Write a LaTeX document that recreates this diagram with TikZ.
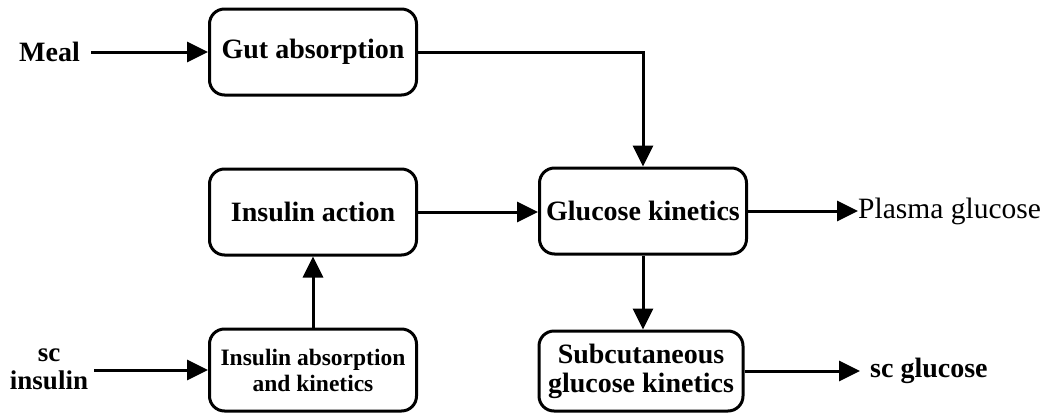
\documentclass[tikz,border=0pt]{standalone}
\usepackage{fontspec}
\setmainfont{Liberation Serif}
\usetikzlibrary{arrows.meta}
\begin{document}
\begin{tikzpicture}[x=1pt,y=-1pt,
  blk/.style={draw, line width=3pt, rounded corners=15pt, minimum width=207pt,
    minimum height=86pt, align=center, inner sep=0pt,
    font=\bfseries\fontsize{28}{29}\selectfont},
  lbl/.style={inner sep=0pt, align=center, font=\bfseries\fontsize{28}{29}\selectfont},
  flow/.style={line width=3pt, -{Triangle[length=21pt,width=20pt]}}]
\useasboundingbox (0,0) rectangle (1046,415);

% model blocks
\node[blk] (gut) at (313,52) {Gut absorption};
\node[blk] (act) at (313,212) {Insulin action};
\node[blk, minimum height=82pt, font=\bfseries\fontsize{23.5}{26}\selectfont] (abs) at (313,370) {Insulin absorption\\and kinetics};
\node[blk] (gk) at (643,211) {Glucose kinetics};
\node[blk, minimum width=204pt, minimum height=80pt] (sgk) at (641,371) {Subcutaneous\\glucose kinetics};

% inputs and outputs
\node[lbl, anchor=east] (meal) at (80,52) {Meal};
\node[lbl, font=\bfseries\fontsize{27}{28}\selectfont] (scins) at (49,369) {sc\\insulin};
\node[lbl, anchor=west, font=\fontsize{29.5}{30}\selectfont] (pg) at (858,211) {Plasma glucose};
\node[lbl, anchor=west] (scg) at (870,371) {sc glucose};

% signal flow
\draw[flow] ([xshift=6pt]scins.east |- abs.west) -- (abs.west);
\draw[flow] ([xshift=11pt]meal.east |- gut.west) -- (gut.west);
\draw[flow] (gut.east) -| (gk.north);
\draw[flow] (act.east) -- (act.east -| gk.west);
\draw[flow] (abs.north) -- (act.south);
\draw[flow] (gk.east) -- (pg.west |- gk.east);
\draw[flow] (gk.south) -- (gk.south |- sgk.north);
\draw[flow] (sgk.east) -- ([xshift=-10pt]scg.west |- sgk.east);
\end{tikzpicture}
\end{document}
